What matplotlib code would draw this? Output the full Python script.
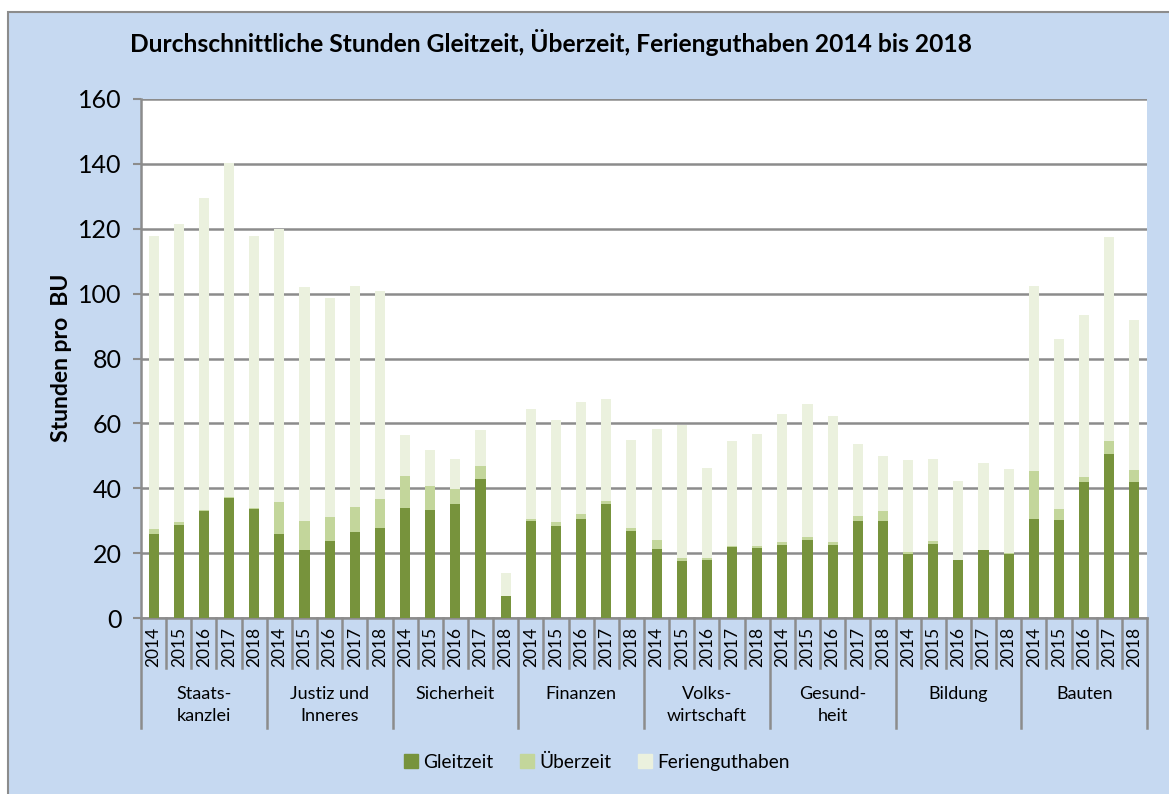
import matplotlib
matplotlib.use("Agg")
import matplotlib.pyplot as plt
import matplotlib.transforms as mtransforms
from matplotlib.patches import Rectangle, Patch
import numpy as np

plt.rcParams['font.family'] = ['Lato', 'DejaVu Sans']

# data
departments = ["Staats-\nkanzlei", "Justiz und\nInneres", "Sicherheit", "Finanzen",
               "Volks-\nwirtschaft", "Gesund-\nheit", "Bildung", "Bauten"]
years = ["2014", "2015", "2016", "2017", "2018"]

gleitzeit = [26.0, 28.7, 33.0, 37.0, 33.6,
             25.8, 21.1, 23.7, 26.6, 27.8,
             34.0, 33.3, 35.1, 42.8, 6.9,
             29.8, 28.4, 30.4, 35.2, 26.8,
             21.3, 17.7, 18.0, 21.9, 21.6,
             22.4, 24.0, 22.4, 29.8, 29.8,
             19.6, 22.8, 17.9, 21.0, 19.8,
             30.5, 30.2, 41.8, 50.6, 41.8]
ueberzeit = [1.4, 0.8, 0.3, 0.3, 0.3,
             10.0, 8.8, 7.5, 7.6, 8.9,
             9.8, 7.4, 4.7, 4.2, 0.0,
             0.7, 1.3, 1.6, 0.8, 0.9,
             2.6, 0.9, 0.6, 0.4, 0.5,
             1.0, 1.0, 1.1, 1.7, 3.1,
             0.8, 0.9, 0.1, 0.1, 0.2,
             14.7, 3.4, 1.6, 4.0, 3.8]
ferienguthaben = [90.5, 92.1, 96.2, 103.0, 83.9,
                  84.0, 72.2, 67.5, 68.1, 64.1,
                  12.6, 11.0, 9.2, 11.0, 6.9,
                  33.8, 31.2, 34.6, 31.5, 27.2,
                  34.4, 41.0, 27.6, 32.2, 34.6,
                  39.5, 41.0, 38.8, 22.0, 16.9,
                  28.4, 25.4, 24.3, 26.7, 25.9,
                  57.0, 52.3, 50.1, 63.0, 46.2]

c_gleit = "#77933C"
c_ueber = "#C3D69B"
c_ferien = "#EBF1DE"
bg = "#C6D9F1"
gray = "#8C8C8C"

W, H = 1169, 794
fig = plt.figure(figsize=(W / 100, H / 100), dpi=100)
fig.patch.set_facecolor("white")
fig.patches.append(Rectangle((8 / W, -0.01), 1.0, 1 - 12 / H + 0.01, transform=fig.transFigure,
                             facecolor=bg, edgecolor=gray, linewidth=1.5, zorder=-10))

left, right, top, bottom = 141, 1147, 99, 618
ax = fig.add_axes([left / W, 1 - bottom / H, (right - left) / W, (bottom - top) / H])
ax.set_zorder(1)
ax.set_facecolor("white")

n = len(gleitzeit)
x = np.arange(n)
g = np.array(gleitzeit)
u = np.array(ueberzeit)
f = np.array(ferienguthaben)
bw = 0.4
ax.bar(x, g, bw, color=c_gleit, zorder=3)
ax.bar(x, u, bw, bottom=g, color=c_ueber, zorder=3)
ax.bar(x, f, bw, bottom=g + u, color=c_ferien, zorder=3)

ax.set_xlim(-0.5, n - 0.5)
ax.set_ylim(0, 160)
ax.set_yticks(range(0, 161, 20))
ax.yaxis.grid(True, color=gray, linewidth=1.8, zorder=1)
ax.set_axisbelow(True)
ax.tick_params(axis="y", labelsize=18, length=6, width=1.5, color=gray, pad=8)
ax.set_xticks([])
for s in ["top", "right"]:
    ax.spines[s].set_visible(False)
for s in ["left", "bottom"]:
    ax.spines[s].set_color(gray)
    ax.spines[s].set_linewidth(1.8)

# multi-level category axis
ah = bottom - top
trans = mtransforms.blended_transform_factory(ax.transData, ax.transAxes)
year_y = -(668 - bottom) / ah
grp_y = -(728 - bottom) / ah
for i in range(n):
    ax.text(x[i], -(647 - bottom) / ah, years[i % 5], transform=trans, rotation=90,
            ha="center", va="center", fontsize=12.5, color="black")
for i in range(n + 1):
    yy = grp_y if i % 5 == 0 else year_y
    ax.plot([i - 0.5, i - 0.5], [0, yy], transform=trans, color=gray,
            linewidth=1.8, clip_on=False)
for k, d in enumerate(departments):
    ax.text(k * 5 + 2, -(686 - bottom) / ah, d, transform=trans, ha="center", va="top",
            fontsize=13, linespacing=1.45)

fig.text(130 / W, 1 - 43 / H, "Durchschnittliche Stunden Gleitzeit, Überzeit, Ferienguthaben 2014 bis 2018",
         ha="left", va="center", fontsize=17.7, fontweight="bold")
fig.text(61 / W, 1 - 358 / H, "Stunden pro  BU", rotation=90, ha="center", va="center",
         fontsize=16.5, fontweight="bold")

handles = [Patch(color=c_gleit), Patch(color=c_ueber), Patch(color=c_ferien)]
fig.legend(handles, ["Gleitzeit", "Überzeit", "Ferienguthaben"], loc="center",
           bbox_to_anchor=(597 / W, 1 - 762 / H), ncol=3, frameon=False, fontsize=13.8,
           handlelength=0.7, handleheight=0.7, handletextpad=0.3, columnspacing=1.4)

fig.savefig("out.png", dpi=100, facecolor=fig.get_facecolor())
